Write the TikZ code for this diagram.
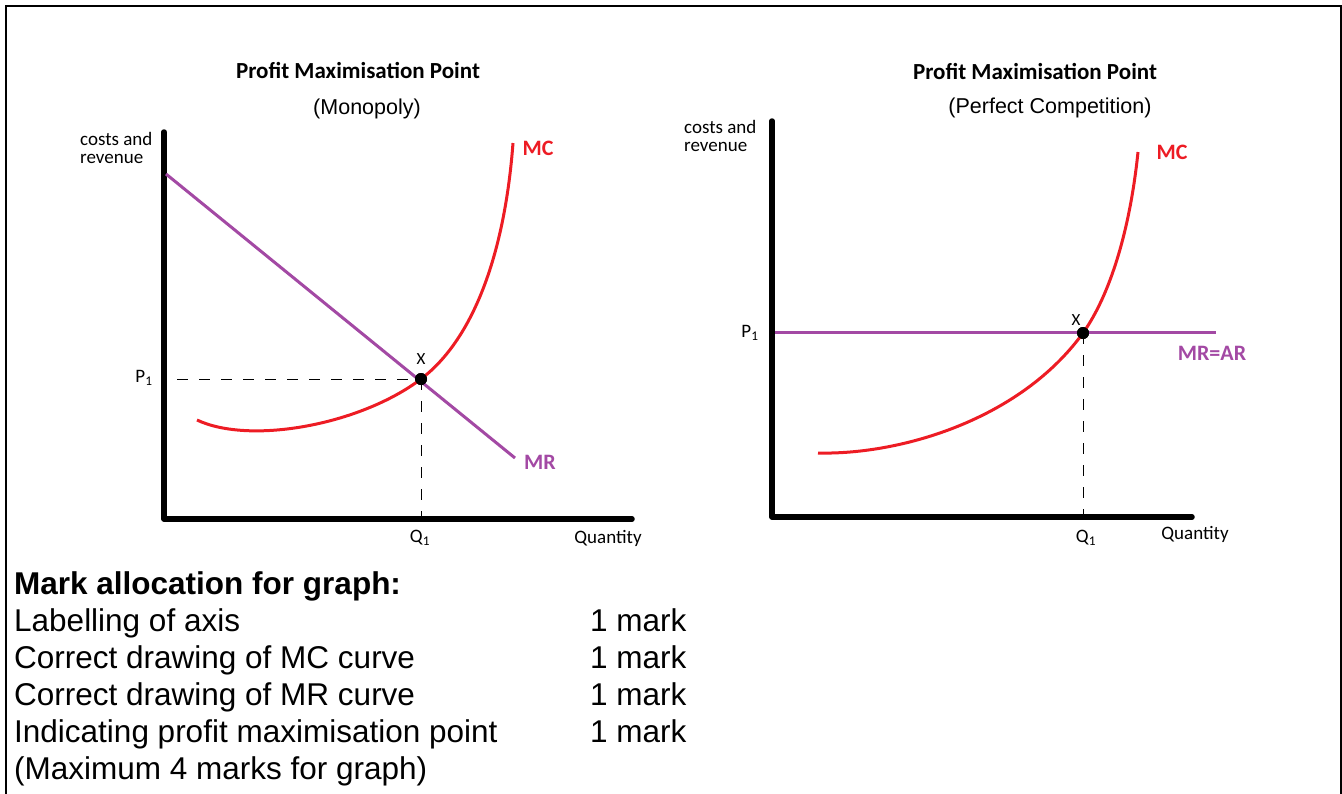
\documentclass[tikz,border=0pt]{standalone}
\usepackage{fontspec}
\setmainfont{Liberation Sans}
\newfontfamily\calfont{Carlito}
\definecolor{mcred}{HTML}{ED1C24}
\definecolor{mrpurple}{HTML}{A349A4}
\usetikzlibrary{calc, positioning}

\begin{document}
\begin{tikzpicture}[x=1pt, y=-1pt,
  axisline/.style={line width=5.5pt, line cap=round, line join=round},
  mccurve/.style={draw=mcred, line width=3pt},
  mrline/.style={draw=mrpurple, line width=3pt},
  guide/.style={line width=1pt, dash pattern=on 11pt off 11pt},
  lbl/.style={font=\calfont\fontsize{19}{18}\selectfont, inner sep=0pt},
  charttitle/.style={font=\calfont\bfseries\fontsize{23}{23}\selectfont, inner sep=0pt},
  subtitle/.style={font=\fontsize{21.5}{21.5}\selectfont, inner sep=0pt},
  curvelbl/.style={font=\calfont\bfseries\fontsize{22}{22}\selectfont, inner sep=0pt},
  dot/.style={circle, fill=black, minimum size=12pt, inner sep=0pt},
  markrow/.style={font=\fontsize{31.5}{37}\selectfont, anchor=base west, inner sep=0pt},
]
\useasboundingbox (0,0) rectangle (1342,793);
\draw[line width=1.5pt] (6,800) -- (6,6) -- (1341,6) -- (1341,800);

% monopoly
\node[charttitle] (titleL) at (358,70) {Profit Maximisation Point};
\node[subtitle] (subL) at (367,109) {(Monopoly)};
\node[lbl, align=left, anchor=west] (costsL) at (80,148) {costs and\\revenue};
\coordinate (yL) at (164,132);
\coordinate (oL) at (164,519);
\coordinate (xendL) at (632,519);
\draw[axisline] (yL) -- (oL) -- (xendL);
\draw[mrline] (166,174) -- (515,458);
\node[dot] (xL) at (421,379) {};
\draw[mccurve] (197,420) .. controls (250,445) and (360,425) .. (xL.center)
  .. controls (475,338) and (505,250) .. (513,143);
\node[dot] at (xL) {};
\coordinate (p1L) at (177,379);
\coordinate (q1L) at (421,519);
\draw[guide] (p1L) -- (xL.center);
\draw[guide] (xL.center) -- (q1L);
\node[lbl] (p1labL) at (144,378) {P\textsubscript{1}};
\node[lbl, font=\calfont\fontsize{17}{17}\selectfont] (xlabL) at (421,359) {X};
\node[lbl] (q1labL) at (420,538) {Q\textsubscript{1}};
\node[lbl] (qtyL) at (608,538) {Quantity};
\node[curvelbl, text=mcred] (mcL) at (538,148) {MC};
\node[curvelbl, text=mrpurple] (mrL) at (540,462) {MR};

% perfect competition
\node[charttitle] (titleR) at (1035,71) {Profit Maximisation Point};
\node[subtitle] (subR) at (1050,108) {(Perfect Competition)};
\node[lbl, align=left, anchor=west] (costsR) at (684,136) {costs and\\revenue};
\coordinate (yR) at (772,121);
\coordinate (oR) at (772,517);
\coordinate (xendR) at (1192,517);
\draw[axisline] (yR) -- (oR) -- (xendR);
\draw[mrline] (775,332) -- (1216,332);
\node[dot] (xR) at (1083,333) {};
\draw[mccurve] (818,453) .. controls (900,455) and (1020,420) .. (xR.center)
  .. controls (1110,295) and (1130,230) .. (1138,152);
\node[dot] at (xR) {};
\coordinate (q1R) at (1083,517);
\draw[guide] (xR.center) -- (q1R);
\node[lbl] (p1labR) at (750,333) {P\textsubscript{1}};
\node[lbl, font=\calfont\fontsize{17}{17}\selectfont] (xlabR) at (1076,320) {X};
\node[lbl] (q1labR) at (1086,538) {Q\textsubscript{1}};
\node[lbl] (qtyR) at (1195,534) {Quantity};
\node[curvelbl, text=mcred] (mcR) at (1172,152) {MC};
\node[curvelbl, text=mrpurple] (mrR) at (1212,353) {MR=AR};

% mark allocation
\node[markrow, font=\bfseries\fontsize{31.5}{37}\selectfont] (head) at (14,594) {Mark allocation for graph:};
\node[markrow] (row1) at (14,631) {Labelling of axis};
\node[markrow] (row2) at (14,668) {Correct drawing of MC curve};
\node[markrow] (row3) at (14,705) {Correct drawing of MR curve};
\node[markrow] (row4) at (14,742) {Indicating profit maximisation point};
\node[markrow] (row5) at (14,779) {(Maximum 4 marks for graph)};
\node[markrow] (m1) at (590,631) {1 mark};
\node[markrow] (m2) at (590,668) {1 mark};
\node[markrow] (m3) at (590,705) {1 mark};
\node[markrow] (m4) at (590,742) {1 mark};
\end{tikzpicture}
\end{document}
